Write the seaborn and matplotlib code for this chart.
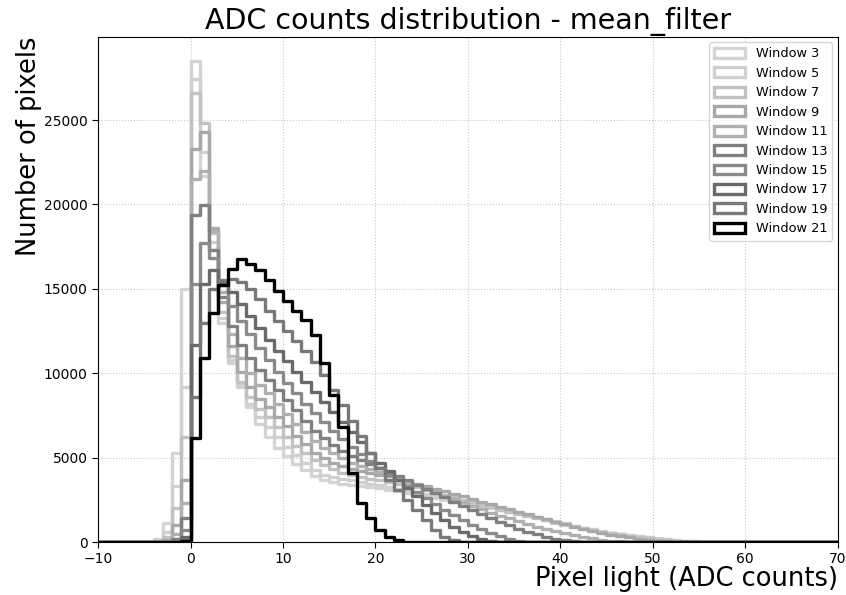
import numpy as np
import pandas as pd
import matplotlib
matplotlib.use("Agg")
import matplotlib.pyplot as plt
from matplotlib.patches import Patch
import seaborn as sns

# counts per 1-ADC bin, first value is the bin [-5, -4)
first_bin = -5

w3 = [30, 200, 1100, 5300, 15000, 28500, 21700, 17300, 13000, 10600, 9200, 8000, 7000, 6200,
      5600, 5100, 4650, 4250, 3900, 3700, 3550, 3450, 3350, 3300, 3250, 3200, 3100, 3000, 2900,
      2800, 2700, 2600, 2500, 2400, 2300, 2200, 2100, 2000, 1900, 1800, 1700, 1550, 1450, 1300,
      1150, 1000, 900, 800, 700, 600, 520, 450, 390, 330, 280, 220, 170, 120, 80, 50, 30, 15, 8]
w5 = [10, 100, 600, 3300, 9200, 27450, 23100, 17800, 13300, 10800, 9300, 8200, 7400, 6800,
      6200, 5650, 5150, 4700, 4260, 4000, 3850, 3750, 3650, 3550, 3450, 3350, 3250, 3150, 3050,
      2950, 2850, 2750, 2650, 2500, 2350, 2250, 2150, 2050, 1950, 1850, 1750, 1620, 1500, 1370,
      1240, 1100, 980, 860, 750, 650, 560, 480, 400, 330, 270, 210, 160, 110, 75, 45, 25, 10]
w7 = [0, 50, 300, 2000, 6200, 26600, 24850, 18300, 13600, 11000, 9500, 8600, 7900, 7400,
      6800, 6200, 5700, 5250, 4850, 4550, 4300, 4100, 3950, 3850, 3750, 3650, 3550, 3450, 3350,
      3250, 3100, 2950, 2800, 2650, 2500, 2350, 2200, 2050, 1900, 1780, 1660, 1540, 1420, 1300,
      1180, 1060, 940, 830, 720, 620, 530, 450, 370, 300, 240, 180, 130, 90, 55, 30, 10]
w9 = [0, 20, 150, 1000, 3700, 23300, 24300, 18600, 14200, 11600, 10100, 9200, 8500, 8000,
      7400, 6850, 6300, 5800, 5300, 4950, 4700, 4500, 4350, 4200, 4100, 4000, 3900, 3750, 3600,
      3450, 3300, 3150, 3000, 2850, 2700, 2550, 2400, 2250, 2100, 1950, 1800, 1650, 1500, 1350,
      1200, 1050, 900, 770, 650, 540, 440, 350, 270, 200, 140, 90, 50, 20]
w11 = [0, 0, 60, 500, 2300, 21500, 22000, 18400, 14800, 12300, 10900, 10000, 9300, 8800,
       8200, 7600, 7000, 6500, 6000, 5600, 5250, 4950, 4700, 4500, 4300, 4150, 3950, 3750, 3550,
       3350, 3150, 2950, 2750, 2550, 2350, 2150, 1950, 1750, 1570, 1400, 1230, 1070, 920, 780,
       650, 530, 420, 320, 230, 150, 90, 40, 15]
w13 = [0, 0, 20, 200, 1400, 19350, 19950, 17300, 14500, 12800, 11700, 10900, 10200, 9600,
       9000, 8400, 7800, 7200, 6600, 6150, 5750, 5400, 5100, 4850, 4600, 4400, 4150, 3900, 3650,
       3400, 3150, 2900, 2650, 2400, 2150, 1900, 1650, 1400, 1200, 1000, 800, 620, 460, 320,
       200, 110, 50, 15]
w15 = [0, 0, 0, 50, 700, 15300, 17700, 16800, 15200, 14000, 13100, 12300, 11500, 10770,
       10100, 9450, 8800, 8200, 7650, 7100, 6600, 6100, 5650, 5200, 4800, 4400, 4000, 3650, 3300,
       2950, 2600, 2250, 1900, 1600, 1300, 1000, 750, 520, 330, 180, 80, 30]
w17 = [0, 0, 0, 0, 300, 11650, 15300, 16100, 15400, 14800, 14100, 13400, 12700, 11950,
       11300, 10700, 10100, 9500, 8900, 8300, 7700, 7100, 6500, 5900, 5300, 4700, 4200, 3700,
       3200, 2700, 2200, 1700, 1300, 900, 600, 350, 180, 80, 20]
w19 = [0, 0, 0, 0, 100, 8600, 13000, 15000, 15500, 15600, 15400, 15000, 14400, 13700,
       13100, 12500, 11900, 11300, 10650, 9900, 9000, 8100, 7200, 6300, 5300, 4400, 3700, 3100,
       2500, 1900, 1300, 700, 300, 100]
w21 = [0, 0, 0, 0, 50, 6150, 10900, 13550, 15200, 16200, 16750, 16500, 16100, 15500,
       14900, 14300, 13700, 13150, 12250, 10600, 8700, 6800, 4100, 2300, 1400, 700, 300, 100, 30]

windows = [3, 5, 7, 9, 11, 13, 15, 17, 19, 21]
series = [w3, w5, w7, w9, w11, w13, w15, w17, w19, w21]
colors = ["#d4d4d4", "#d0d0d0", "#c2c2c2", "#a8a8a8", "#b0b0b0",
          "#808080", "#8a8a8a", "#6a6a6a", "#787878", "#000000"]

rows = []
for w, counts in zip(windows, series):
    for i, n in enumerate(counts):
        rows.append({"window": w, "adc": first_bin + i + 0.5, "count": n})
df = pd.DataFrame(rows)

sns.set_style("ticks")
plt.rcParams["font.family"] = ["DejaVu Sans"]
plt.rcParams["text.color"] = "black"
plt.rcParams["axes.labelcolor"] = "black"

fig, ax = plt.subplots(figsize=(8.46, 5.95), dpi=100)
fig.subplots_adjust(left=0.116, right=0.99, top=0.938, bottom=0.089)

handles = []
for w, c in zip(windows, colors):
    sub = df[df["window"] == w]
    sns.histplot(data=sub, x="adc", weights="count", binwidth=1, binrange=(-10, 70),
                 element="step", fill=False, color=c, linewidth=2.4, ax=ax)
    handles.append(Patch(facecolor="none", edgecolor=c, linewidth=2.4, label=f"Window {w}"))

ax.set_xlim(-10, 70)
ax.set_ylim(bottom=0)
ax.set_xticks(np.arange(-10, 71, 10))
ax.set_yticks(np.arange(0, 25001, 5000))
ax.tick_params(labelsize=10, colors="black", length=4)
ax.grid(True, linestyle=":", color="#c8c8c8", linewidth=0.8)
for s in ax.spines.values():
    s.set_visible(True)
    s.set_color("black")

ax.set_title("ADC counts distribution - mean_filter", fontsize=20.5, color="black")
ax.set_xlabel("Pixel light (ADC counts)", fontsize=18.5, loc="right", labelpad=0)
ax.set_ylabel("Number of pixels", fontsize=18.5, loc="top", labelpad=1)
ax.legend(handles=handles, loc="upper right", fontsize=9.3, handlelength=2.4,
          handleheight=0.8, labelspacing=0.5, borderaxespad=0.4)

plt.savefig("out.png", dpi=100)
